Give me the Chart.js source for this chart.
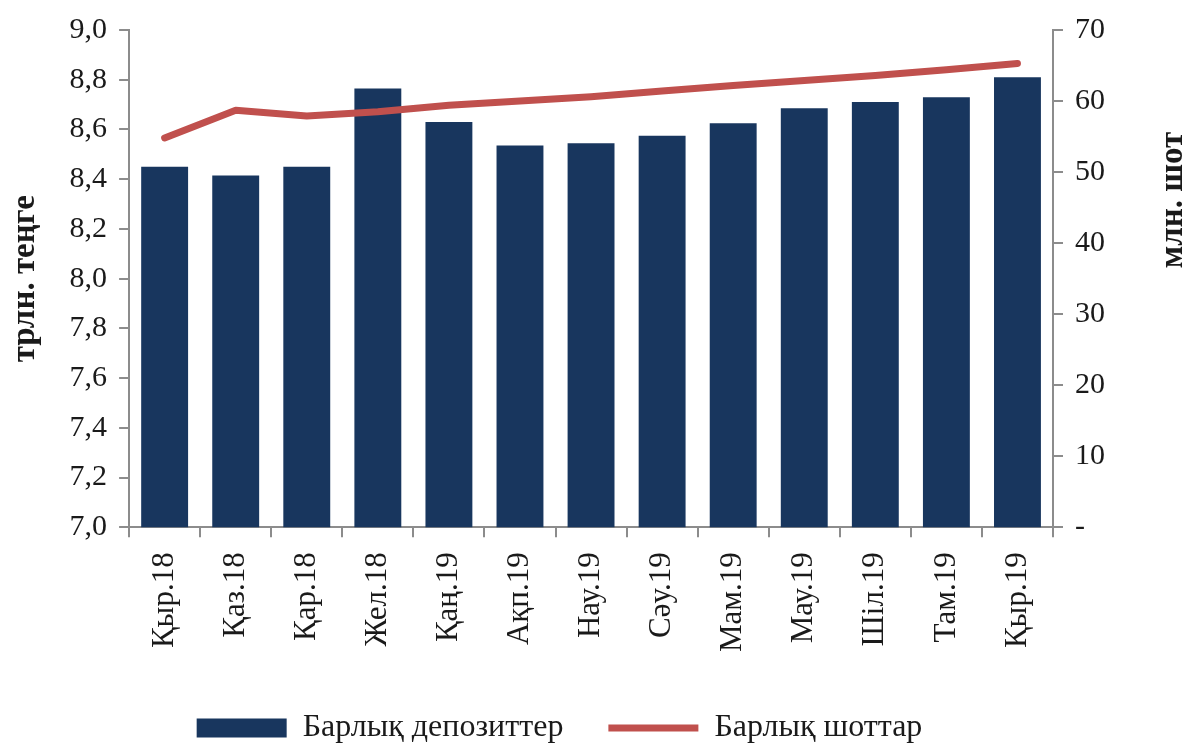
<!DOCTYPE html>
<html>
<head>
<meta charset="utf-8">
<script src="https://cdn.jsdelivr.net/npm/chart.js@4"></script>
<style>
  html, body { margin: 0; padding: 0; background: #fff; }
  #wrap { width: 1187px; height: 747px; }
</style>
</head>
<body>
<div id="wrap"><canvas id="chart"></canvas></div>
<script>
const months = ['Қыр.18', 'Қаз.18', 'Қар.18', 'Жел.18', 'Қаң.19', 'Ақп.19', 'Нау.19', 'Сәу.19', 'Мам.19', 'Мау.19', 'Шіл.19', 'Там.19', 'Қыр.19']
const deposits = [8.45, 8.415, 8.45, 8.765, 8.63, 8.535, 8.545, 8.575, 8.625, 8.685, 8.71, 8.73, 8.81]
const accounts = [54.8, 58.7, 57.9, 58.5, 59.4, 60.0, 60.6, 61.4, 62.2, 62.9, 63.6, 64.4, 65.3]
const leftTitle = 'трлн. теңге'
const rightTitle = 'млн. шот'
const depositsLabel = 'Барлық депозиттер'
const accountsLabel = 'Барлық шоттар'

const font = 'Liberation Serif, Times New Roman, serif'
const axisColor = '#8c8c8c'
const textColor = '#1a1a1a'

// right axis title reads bottom-to-top in the original, chart.js turns it the other way
const rightTitlePlugin = {
    id: 'rightTitle',
    afterDraw(chart) {
        const ctx = chart.ctx
        ctx.save()
        ctx.translate(1173, 200)
        ctx.rotate(-Math.PI / 2)
        ctx.font = 'bold 33px ' + font
        ctx.fillStyle = textColor
        ctx.textAlign = 'center'
        ctx.textBaseline = 'middle'
        ctx.fillText(rightTitle, 0, 0)
        ctx.restore()
    }
}

new Chart(document.getElementById('chart'), {
    type: 'bar',
    data: {
        labels: months,
        datasets: [
            {
                label: depositsLabel,
                data: deposits,
                backgroundColor: '#18365e',
                borderWidth: 0,
                barPercentage: 0.66,
                categoryPercentage: 1,
                yAxisID: 'y',
                order: 1,
                pointStyle: 'rect'
            },
            {
                type: 'line',
                label: accountsLabel,
                data: accounts,
                borderColor: '#c0504d',
                backgroundColor: '#c0504d',
                borderWidth: 7,
                borderCapStyle: 'round',
                borderJoinStyle: 'round',
                pointRadius: 0,
                tension: 0,
                yAxisID: 'y1',
                order: 0,
                pointStyle: 'line'
            }
        ]
    },
    plugins: [rightTitlePlugin],
    options: {
        responsive: true,
        maintainAspectRatio: false,
        animation: false,
        layout: { padding: { top: 0, left: 2, right: 70, bottom: -7 } },
        plugins: {
            tooltip: { enabled: false },
            legend: {
                position: 'bottom',
                labels: {
                    usePointStyle: true,
                    pointStyleWidth: 90,
                    boxHeight: 19,
                    padding: 45,
                    color: textColor,
                    font: { family: font, size: 32 },
                    sort: (a, b) => a.datasetIndex - b.datasetIndex
                }
            }
        },
        scales: {
            x: {
                grid: { drawOnChartArea: false, drawTicks: true, tickLength: 10, color: axisColor, lineWidth: 2 },
                border: { color: axisColor, width: 2 },
                ticks: { minRotation: 90, maxRotation: 90, color: textColor, padding: 15, font: { family: font, size: 31 } }
            },
            y: {
                position: 'left',
                min: 7.0,
                max: 9.0,
                grid: { drawOnChartArea: false, drawTicks: true, tickLength: 10, color: axisColor, lineWidth: 2 },
                border: { color: axisColor, width: 2 },
                ticks: {
                    stepSize: 0.2,
                    color: textColor,
                    padding: 12,
                    font: { family: font, size: 30 },
                    callback: v => v.toFixed(1).replace('.', ',')
                },
                title: { display: true, text: leftTitle, color: textColor, font: { family: font, size: 33, weight: 'bold' }, padding: { top: 4, bottom: 12 } }
            },
            y1: {
                position: 'right',
                min: 0,
                max: 70,
                grid: { drawOnChartArea: false, drawTicks: true, tickLength: 10, color: axisColor, lineWidth: 2 },
                border: { color: axisColor, width: 2 },
                ticks: {
                    stepSize: 10,
                    color: textColor,
                    padding: 12,
                    font: { family: font, size: 30 },
                    callback: v => v === 0 ? '-' : String(v)
                }
            }
        }
    }
})
</script>
</body>
</html>
